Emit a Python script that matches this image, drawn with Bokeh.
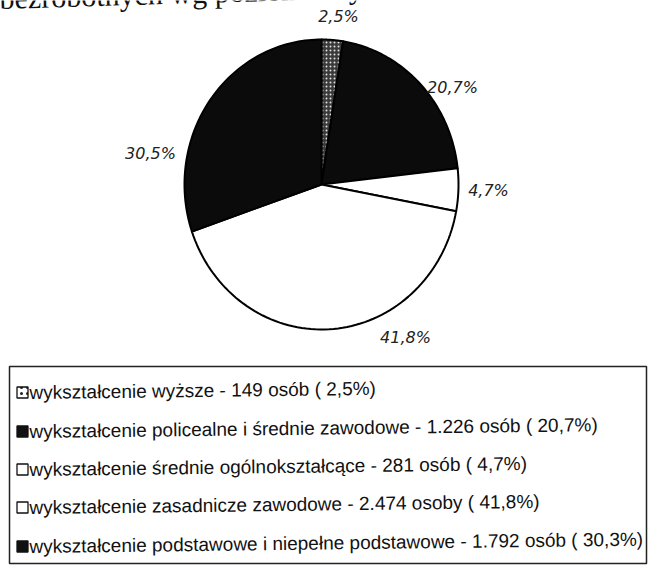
import numpy as np
from bokeh.plotting import figure
from bokeh.models import Range1d, ColumnDataSource
from bokeh.core.properties import value
from bokeh.embed import file_html
from bokeh.resources import INLINE

# ---- data ----
categories = [
    "wykształcenie wyższe",
    "wykształcenie policealne i średnie zawodowe",
    "wykształcenie średnie ogólnokształcące",
    "wykształcenie zasadnicze zawodowe",
    "wykształcenie podstawowe i niepełne podstawowe",
]
persons = [149, 1226, 281, 2474, 1792]
person_labels = ["149 osób", "1.226 osób", "281 osób", "2.474 osoby", "1.792 osób"]
percent_labels = ["2,5%", "20,7%", "4,7%", "41,8%", "30,3%"]
handwritten_labels = ["2,5%", "20,7%", "4,7%", "41,8%", "30,5%"]
title_text = "bezrobotnych wg poziomu wykształcenia"

# ---- styles ----
fills = ["#3a3a3a", "#0b0b0b", "#ffffff", "#ffffff", "#0b0b0b"]
hatches = ["dot", " ", " ", " ", " "]

W, H = 648, 573
TILT = 0.012  # slight rotation of the scanned page


def X(rx):
    return rx


def Y(ry):
    return H - ry


p = figure(width=W, height=H, output_backend="svg", toolbar_location=None,
           x_range=Range1d(0, W), y_range=Range1d(0, H), min_border=0)
p.axis.visible = False
p.grid.visible = False
p.outline_line_color = None
p.background_fill_color = "white"
p.border_fill_color = "white"

# partially cut title of the scanned page (runs off the top edge)
p.text(x=[X(-1)], y=[Y(-2)], text=[title_text], text_font=value("Liberation Serif"),
       text_font_size="30px", text_color="#111", text_baseline="alphabetic", angle=0.03)

# ---- pie (slightly elliptical, as scanned) ----
vals = np.array(persons, dtype=float)
frac = vals / vals.sum()
cum = np.concatenate([[0], np.cumsum(frac)])
cx, cy, rx, ry = X(321), Y(184), 137, 145
xs, ys = [], []
for a0, a1 in zip(cum[:-1], cum[1:]):
    t = np.linspace(np.pi / 2 - 2 * np.pi * a0, np.pi / 2 - 2 * np.pi * a1, 80)
    xs.append(np.concatenate([[cx], cx + rx * np.cos(t)]))
    ys.append(np.concatenate([[cy], cy + ry * np.sin(t)]))
src = ColumnDataSource(dict(xs=xs, ys=ys, fill=fills, hatch=hatches))
p.patches(xs="xs", ys="ys", fill_color="fill", hatch_pattern="hatch", hatch_color="#e0e0e0",
          hatch_scale=4, hatch_weight=1, line_color="black", line_width=2,
          line_join="round", source=src)

# handwritten labels
lab_x = [X(338), X(452), X(488), X(405), X(150)]
lab_y = [Y(16), Y(87), Y(190), Y(337), Y(153)]
p.text(x=lab_x, y=lab_y, text=handwritten_labels, text_font=value("DejaVu Sans"),
       text_font_style="italic", text_font_size="16px", text_color="#222",
       text_align="center", text_baseline="middle")

# ---- legend box ----
p.quad(left=[X(9)], right=[X(646)], top=[Y(366)], bottom=[Y(563)],
       fill_color=None, line_color="#222", line_width=1.5)

row_y = [Y(392), Y(431), Y(469), Y(507), Y(546)]
leg_text = [f"{c} - {n} ( {pc})" for c, n, pc in zip(categories, person_labels, percent_labels)]
leg_fill = ["#ffffff", "#111111", "#ffffff", "#ffffff", "#111111"]
leg_hatch = ["dot", " ", " ", " ", " "]
p.rect(x=[X(22)] * 5, y=row_y, width=11, height=11, fill_color=leg_fill,
       hatch_pattern=leg_hatch, hatch_color="#222", hatch_scale=6,
       line_color="#111", line_width=1.3)
p.text(x=[X(29)] * 5, y=row_y, text=leg_text, text_font=value("Liberation Sans"),
       text_font_size="19px", text_color="#111", text_baseline="middle", angle=TILT)

open("out.html", "w").write(file_html(p, INLINE))
